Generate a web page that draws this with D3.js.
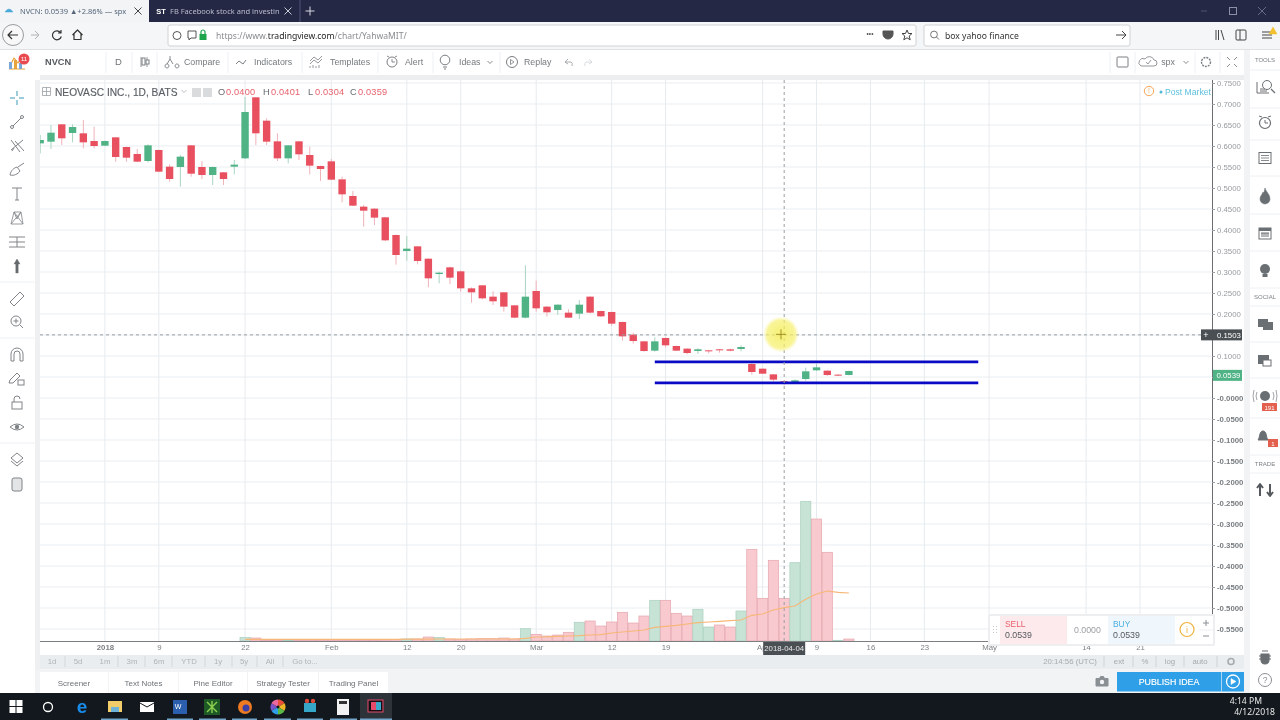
<!DOCTYPE html>
<html>
<head>
<meta charset="utf-8">
<title>NVCN chart</title>
<script src="https://cdn.jsdelivr.net/npm/d3@7"></script>
<style>
  html, body { margin: 0; padding: 0; background: #fff; overflow: hidden; }
  svg { display: block; filter: blur(0.4px); }
</style>
</head>
<body>
<svg id="chart" width="1280" height="720"></svg>
<script>
// Trading sessions on the time axis (weekends and holidays are skipped, as in the chart)
var sessions = [
  "2017-12-21","2017-12-22","2017-12-26","2017-12-27","2017-12-28","2017-12-29",
  "2018-01-02","2018-01-03","2018-01-04","2018-01-05","2018-01-08","2018-01-09","2018-01-10","2018-01-11","2018-01-12",
  "2018-01-16","2018-01-17","2018-01-18","2018-01-19","2018-01-22","2018-01-23","2018-01-24","2018-01-25","2018-01-26",
  "2018-01-29","2018-01-30","2018-01-31","2018-02-01","2018-02-02","2018-02-05","2018-02-06","2018-02-07","2018-02-08","2018-02-09",
  "2018-02-12","2018-02-13","2018-02-14","2018-02-15","2018-02-16","2018-02-20","2018-02-21","2018-02-22","2018-02-23",
  "2018-02-26","2018-02-27","2018-02-28","2018-03-01","2018-03-02","2018-03-05","2018-03-06","2018-03-07","2018-03-08","2018-03-09",
  "2018-03-12","2018-03-13","2018-03-14","2018-03-15","2018-03-16","2018-03-19","2018-03-20","2018-03-21","2018-03-22","2018-03-23",
  "2018-03-26","2018-03-27","2018-03-28","2018-03-29","2018-04-02","2018-04-03","2018-04-04","2018-04-05","2018-04-06",
  "2018-04-09","2018-04-10","2018-04-11","2018-04-12","2018-04-13","2018-04-16","2018-04-17","2018-04-18","2018-04-19","2018-04-20",
  "2018-04-23","2018-04-24","2018-04-25","2018-04-26","2018-04-27","2018-04-30","2018-05-01","2018-05-02","2018-05-03","2018-05-04",
  "2018-05-07","2018-05-08","2018-05-09","2018-05-10","2018-05-11","2018-05-14","2018-05-15","2018-05-16","2018-05-17","2018-05-18","2018-05-21"
];

// Daily candles, one value per session starting at the first session
var opens = [.6063,.6103,.6516,.631,.6302,.6119,.6008,.6206,.5976,.581,.5643,.5905,.5508,.55,.6016,.55,.531,.5373,.5508,.5706,.7159,.6603,.6111,.5706,.6111,.5786,.5524,.5635,.5206,.481,
  .4556,.4508,.4302,.3881,.35,.3611,.3317,.2952,.3111,.3016,.2611,.2683,.2413,.2516,.2206,.1913,.2548,.2175,.2095,.2032,.2008,.2413,.2071,.2048,.181,.1508,
  .1349,.1127,.1429,.1238,.1175,.1119,.1135,.1159,.1159,.1167,.081,.0698,.0563,.04,.0357,.0452,.0659,.0651,.0556,.0548];
var highs = [.6262,.65,.652,.6516,.6619,.646,.6127,.6214,.5984,.5929,.604,.5913,.5563,.5786,.6024,.5643,.5508,.5381,.5667,.7167,.7167,.6659,.6302,.6024,.6119,.5984,.5532,.569,.527,.4929,
  .4595,.4516,.431,.389,.3857,.362,.3325,.3008,.3127,.3032,.2635,.2691,.254,.2524,.2214,.3159,.2794,.219,.223,.2111,.2333,.2421,.2079,.2056,.1818,.1556,
  .1357,.1444,.1444,.1246,.1183,.119,.1143,.1167,.1175,.1254,.0865,.0706,.0571,.0401,.0444,.0722,.081,.0659,.0571,.0651];
var lows = [.5825,.5929,.6024,.6087,.5944,.5944,.6,.5627,.5627,.5611,.5611,.5373,.5151,.5032,.527,.5214,.5071,.5071,.5325,.569,.6024,.6024,.5643,.5587,.5667,.5325,.5167,.519,.4659,.4571,
  .4079,.4119,.3738,.3175,.327,.3183,.2635,.273,.2714,.2532,.227,.2349,.2214,.2056,.1897,.1897,.2056,.1937,.1976,.1905,.1881,.2016,.1929,.1722,.1365,.1294,
  .1103,.1103,.1206,.1119,.104,.1048,.1063,.1079,.1111,.1111,.0556,.0571,.0397,.0304,.0349,.0413,.0643,.0524,.0524,.054];
var closes = [.6143,.6317,.6183,.6452,.6087,.6,.6119,.5738,.5722,.5627,.6016,.5389,.5214,.5746,.5341,.531,.55,.5214,.5556,.681,.6302,.6103,.5706,.6016,.5802,.5532,.5452,.5198,.4849,.4579,
  .446,.4294,.3754,.3405,.3556,.3262,.2849,.2984,.2865,.2611,.2516,.2373,.2302,.2175,.1913,.2413,.2135,.204,.2222,.1913,.2222,.2032,.1944,.177,.1468,.1357,
  .1119,.1349,.1254,.1127,.1071,.1159,.1111,.1143,.1127,.1214,.0619,.0579,.0437,.0359,.0421,.0635,.073,.0548,.0532,.0643];

// Volume in millions with its moving average, starting at volumeStart
var volumeStart = "2018-01-22";
var volumes = [.35,.3,.1,.1,.05,.1,.1,.1,.1,.1,.1,.1,.1,.12,.15,.2,.2,.4,.35,.2,.15,.2,
  .23,.23,.3,.2,1.23,.67,.5,.6,.87,1.87,2,1.5,1.9,2.87,1.8,2.5,4.07,4.07,2.77,2.5,3.17,1.4,1.6,1.4,3,9.17,4.27,8.07,4.27,7.83,13.97,12.2,8.87,.07,.2];
var volumeUp = [1,0,0,0,1,0,0,0,0,0,0,0,0,0,0,1,0,0,1,0,0,0,
  0,0,0,0,1,0,0,0,0,1,0,0,0,0,0,0,1,0,0,0,1,1,0,0,1,0,0,0,0,1,1,0,0,1,0];
var volumeMa = [.16,.16,.17,.17,.17,.17,.17,.17,.17,.17,.17,.17,.17,.17,.17,.18,.18,.19,.2,.2,.2,.2,
  .2,.2,.2,.2,.27,.4,.42,.47,.5,.53,.6,.63,.8,.9,1,1.1,1.37,1.47,1.57,1.7,1.83,1.9,1.97,2.03,2.1,2.57,2.7,3.1,3.33,3.5,4.17,4.7,5,4.87,4.8];

// Two drawn support/resistance lines
var lineStart = "2018-03-16", lineEnd = "2018-04-30";
var lineLevels = [0.086, 0.036];

// Axis ticks
var priceTicks = [.75,.7,.65,.6,.55,.5,.45,.4,.35,.3,.25,.2,.15,.1,.05,0,-.05,-.1,-.15,-.2,-.25,-.3,-.35,-.4,-.45,-.5,-.55];
var timeTicks = ["2018-01-02","2018-01-09","2018-01-22","2018-02-01","2018-02-12","2018-02-20","2018-03-01","2018-03-12","2018-03-19","2018-04-02","2018-04-09","2018-04-16","2018-04-23","2018-05-01","2018-05-14","2018-05-21"];
var timeLabels = ["2018","9","22","Feb","12","20","Mar","12","19","Apr","9","16","23","May","14","21"];

var lastPrice = 0.0539, crossPrice = 0.1503, crossDate = "2018-04-04";

var svg = d3.select("#chart");
var UI = "'Noto Sans', sans-serif", TV = "'Liberation Sans', Arial, sans-serif";

function rect(p, x, y, w, h, fill, extra) {
  var r = p.append("rect").attr("x", x).attr("y", y).attr("width", w).attr("height", h).attr("fill", fill);
  if (extra) Object.keys(extra).forEach(function (k) { r.attr(k, extra[k]); });
  return r;
}
function txt(p, x, y, s, size, color, extra) {
  var t = p.append("text").attr("x", x).attr("y", y).attr("dy", "0.35em").attr("font-size", size)
    .attr("font-family", TV).attr("fill", color).text(s);
  if (extra) Object.keys(extra).forEach(function (k) { t.attr(k, extra[k]); });
  return t;
}
function line(p, x1, y1, x2, y2, color, w) {
  return p.append("line").attr("x1", x1).attr("y1", y1).attr("x2", x2).attr("y2", y2)
    .attr("stroke", color).attr("stroke-width", w || 1);
}
// small stroked icon, path written around its own centre
function icon(p, x, y, d, color, w, fill) {
  return p.append("path").attr("transform", "translate(" + x + "," + y + ")").attr("d", d)
    .attr("fill", fill || "none").attr("stroke", color).attr("stroke-width", w || 1)
    .attr("stroke-linejoin", "round");
}

// ---------- scales ----------
var paneL = 40, paneR = 1212, paneT = 80, paneB = 641;
var x = d3.scalePoint().domain(sessions).range([40.2, 1140]);
var y = d3.scaleLinear().domain([0, 0.75]).range([398, 83]);
var yVol = d3.scaleLinear().domain([0, 14]).range([641, 501]);
var step = x.step();

rect(svg, 0, 0, 1280, 720, "#ffffff");

// ---------- chart pane ----------
var defs = svg.append("defs");
defs.append("clipPath").attr("id", "pane").append("rect")
  .attr("x", paneL).attr("y", paneT).attr("width", paneR - paneL).attr("height", paneB - paneT);
var glow = defs.append("radialGradient").attr("id", "glow");
glow.append("stop").attr("offset", "0%").attr("stop-color", "#f4ec50").attr("stop-opacity", 0.8);
glow.append("stop").attr("offset", "78%").attr("stop-color", "#f6f06c").attr("stop-opacity", 0.7);
glow.append("stop").attr("offset", "100%").attr("stop-color", "#f8f490").attr("stop-opacity", 0);

var pane = svg.append("g").attr("clip-path", "url(#pane)");

pane.selectAll("line.gy").data(priceTicks).join("line").attr("class", "gy")
  .attr("x1", paneL).attr("x2", paneR).attr("y1", d => y(d)).attr("y2", d => y(d))
  .attr("stroke", "#e9eef2");
pane.selectAll("line.gx").data(timeTicks).join("line").attr("class", "gx")
  .attr("x1", d => x(d)).attr("x2", d => x(d)).attr("y1", paneT).attr("y2", paneB)
  .attr("stroke", "#e6ebef");

// volume pane
var vStart = sessions.indexOf(volumeStart);
var volRows = volumes.map(function (v, i) {
  return { date: sessions[vStart + i], v: v, up: volumeUp[i], ma: volumeMa[i] };
});
pane.selectAll("rect.vol").data(volRows).join("rect").attr("class", "vol")
  .attr("x", d => x(d.date) - step / 2 + 0.3).attr("width", step - 0.6)
  .attr("y", d => yVol(d.v)).attr("height", d => yVol(0) - yVol(d.v))
  .attr("fill", d => d.up ? "#c6e3d6" : "#f8c9cf")
  .attr("stroke", d => d.up ? "#a9d0bf" : "#e5a6ae").attr("stroke-width", 0.7);
pane.append("path").datum(volRows)
  .attr("d", d3.line().x(d => x(d.date)).y(d => yVol(d.ma)))
  .attr("fill", "none").attr("stroke", "#f7b777").attr("stroke-width", 1.2);

// candles
var candles = opens.map(function (o, i) {
  return { date: sessions[i], o: o, h: highs[i], l: lows[i], c: closes[i] };
});
var up = d => d.c >= d.o;
pane.selectAll("line.wick").data(candles).join("line").attr("class", "wick")
  .attr("x1", d => x(d.date)).attr("x2", d => x(d.date))
  .attr("y1", d => y(d.h)).attr("y2", d => y(d.l))
  .attr("stroke", d => up(d) ? "#a8d4c0" : "#f0b2b9").attr("stroke-width", 1);
pane.selectAll("rect.body").data(candles).join("rect").attr("class", "body")
  .attr("x", d => x(d.date) - 3.7).attr("width", 7.4)
  .attr("y", d => y(Math.max(d.o, d.c)))
  .attr("height", d => Math.max(1, Math.abs(y(d.o) - y(d.c))))
  .attr("fill", d => up(d) ? "#4fb386" : "#e8505f");

// drawn levels
pane.selectAll("line.level").data(lineLevels).join("line").attr("class", "level")
  .attr("x1", x(lineStart)).attr("x2", x(lineEnd)).attr("y1", d => y(d)).attr("y2", d => y(d))
  .attr("stroke", "#0a0ac4").attr("stroke-width", 2.8);

// crosshair and cursor highlight
pane.append("line").attr("x1", x(crossDate)).attr("x2", x(crossDate)).attr("y1", paneT).attr("y2", paneB)
  .attr("stroke", "#9a9ea2").attr("stroke-dasharray", "3,3");
pane.append("line").attr("x1", paneL).attr("x2", paneR).attr("y1", y(crossPrice)).attr("y2", y(crossPrice))
  .attr("stroke", "#9a9ea2").attr("stroke-dasharray", "3,3");
pane.append("circle").attr("cx", 781).attr("cy", y(crossPrice) - 0.5).attr("r", 18).attr("fill", "url(#glow)");
icon(pane, 781, y(crossPrice) - 0.5, "M-5,0H5M0,-5V5", "#a0922a", 1);

// ---------- axes ----------
var yFmt = d3.format(".4f");
var yAxis = svg.append("g").attr("transform", "translate(" + paneR + ",0)")
  .call(d3.axisRight(y).tickValues(priceTicks).tickSize(3).tickPadding(2)
    .tickFormat(d => d <= 0 ? "-" + yFmt(Math.abs(d)) : yFmt(d)));
yAxis.select(".domain").attr("stroke", "#6a6e72").attr("d", "M0.5," + paneT + "V" + paneB);
yAxis.selectAll("line").attr("stroke", "#9a9ea2");
yAxis.selectAll("text").attr("font-family", TV).attr("font-size", 7.8)
  .attr("fill", d => d <= 0 ? "#777c80" : "#979b9f").attr("font-weight", d => d <= 0 ? 700 : 400);

var xAxis = svg.append("g").attr("transform", "translate(0," + paneB + ")")
  .call(d3.axisBottom(x).tickValues(timeTicks).tickSize(0).tickPadding(3)
    .tickFormat(d => timeLabels[timeTicks.indexOf(d)]));
xAxis.select(".domain").attr("stroke", "#7a7e82").attr("d", "M" + paneL + ",0.5H" + paneR);
xAxis.selectAll("text").attr("font-family", TV).attr("font-size", 7.8).attr("fill", "#7c8186")
  .attr("font-weight", d => d === "2018-01-02" ? 700 : 400);

// price and date tags
rect(svg, 1201, y(crossPrice) - 5.5, 41, 11, "#4a4f53");
txt(svg, 1206, y(crossPrice), "+", 9, "#ffffff", { "text-anchor": "middle" });
txt(svg, 1217, y(crossPrice), yFmt(crossPrice), 7.8, "#ffffff");
rect(svg, paneR + 1, y(lastPrice) - 5.5, 29, 11, "#4fb386");
txt(svg, 1216.5, y(lastPrice), yFmt(lastPrice), 7.8, "#ffffff");
rect(svg, x(crossDate) - 21, 642, 42, 13, "#4a4f53");
txt(svg, x(crossDate), 648.5, crossDate, 7.8, "#e8e8e8", { "text-anchor": "middle" });

// chart header
icon(svg, 46.5, 91.5, "M-4,-4H4V4H-4ZM0,-4V4M-4,0H4", "#9aa0a5", 0.8);
txt(svg, 55, 92, "NEOVASC INC., 1D, BATS", 10.2, "#5a5f64", { "font-weight": 400, "stroke": "#5a5f64", "stroke-width": 0.15 });
icon(svg, 184, 91, "M-2.5,-1L0,1.5L2.5,-1", "#b9bdc1", 1);
rect(svg, 192, 88, 9, 9, "#d9dbdd"); rect(svg, 203, 88, 9, 9, "#d9dbdd");
[[218, "O", 226, "0.0400"], [263, "H", 271, "0.0401"], [308, "L", 315, "0.0304"], [350, "C", 358, "0.0359"]].forEach(function (h) {
  txt(svg, h[0], 92, h[1], 9.2, "#666b70");
  txt(svg, h[2], 92, h[3], 9.2, "#e8606c", { "letter-spacing": 0.2 });
});
svg.append("circle").attr("cx", 1149).attr("cy", 91).attr("r", 4.7).attr("fill", "none").attr("stroke", "#f4a65c").attr("stroke-width", 1);
txt(svg, 1149, 91, "!", 7, "#f4a65c", { "text-anchor": "middle" });
svg.append("circle").attr("cx", 1161).attr("cy", 92).attr("r", 1.5).attr("fill", "#4db8d8");
txt(svg, 1165, 92, "Post Market", 8.6, "#5fc0dd");

// ---------- trading widget ----------
rect(svg, 988, 614, 227, 32, "#eceef0", { rx: 2 });
rect(svg, 990, 616, 223, 28, "#ffffff");
rect(svg, 1000, 616, 67, 28, "#fdeaed");
rect(svg, 1108, 616, 67, 28, "#eff6fc");
txt(svg, 1005, 624, "SELL", 8.4, "#e8606c");
txt(svg, 1005, 634.5, "0.0539", 8.8, "#555a5f");
txt(svg, 1074, 630, "0.0000", 8.8, "#9a9ea2");
txt(svg, 1113, 624, "BUY", 8.4, "#4db0e4");
txt(svg, 1113, 634.5, "0.0539", 8.8, "#555a5f");
svg.append("circle").attr("cx", 1187).attr("cy", 629.5).attr("r", 7).attr("fill", "none").attr("stroke", "#efb23c").attr("stroke-width", 1.2);
txt(svg, 1187, 630, "i", 9, "#efb23c", { "text-anchor": "middle" });
icon(svg, 1206, 623, "M-3,0H3M0,-3V3", "#8a8f94", 1);
icon(svg, 1206, 636, "M-3,0H3", "#8a8f94", 1);
icon(svg, 995, 630, "M-1.5,-4V-3M1.5,-4V-3M-1.5,-1V0M1.5,-1V0M-1.5,2V3M1.5,2V3", "#c6c9cc", 1);
line(svg, 1199, 630, 1213, 630, "#eceef0");

// ---------- time range bar and bottom tabs ----------
rect(svg, 40, 655, 1204, 14.5, "#eaedef");
[["1d", 52], ["5d", 78], ["1m", 105], ["3m", 132], ["6m", 159], ["YTD", 189], ["1y", 218], ["5y", 244], ["All", 270], ["Go to...", 305]].forEach(function (b) {
  txt(svg, b[1], 661.5, b[0], 7.8, "#b0b4b8", { "text-anchor": "middle" });
});
[65, 118, 145, 172, 205, 232, 257, 283].forEach(function (s) { line(svg, s, 656, s, 667, "#d4d7da"); });
[["20:14:56 (UTC)", 1070], ["ext", 1119], ["%", 1145], ["log", 1170], ["auto", 1200]].forEach(function (b) {
  txt(svg, b[1], 661.5, b[0], 7.8, "#a6aaae", { "text-anchor": "middle" });
});
[1104, 1133, 1156, 1184, 1217].forEach(function (s) { line(svg, s, 656, s, 667, "#d0d3d6"); });
svg.append("circle").attr("cx", 1231).attr("cy", 661.5).attr("r", 3).attr("fill", "none").attr("stroke", "#a6aaae").attr("stroke-width", 1.6);

rect(svg, 0, 669.5, 1250, 24, "#f1f3f5");
rect(svg, 35, 80, 5, 590, "#eef0f2");
rect(svg, 1244, 50, 6, 620, "#f1f3f5");
rect(svg, 40, 75, 1204, 5, "#eceef0");
[["Screener", 40, 68], ["Text Notes", 109, 69], ["Pine Editor", 179, 68], ["Strategy Tester", 248, 70], ["Trading Panel", 319, 69]].forEach(function (t) {
  rect(svg, t[1], 672, t[2], 21, "#ffffff");
  txt(svg, t[1] + t[2] / 2, 683.5, t[0], 8, "#6e7377", { "text-anchor": "middle" });
});
icon(svg, 1102, 681.5, "M-6,-3H-2.5L-1.5,-5H1.5L2.5,-3H6V4.5H-6Z", "#8a8f94", 1, "#8a8f94");
svg.append("circle").attr("cx", 1102).attr("cy", 682).attr("r", 2.2).attr("fill", "#f1f3f5");
rect(svg, 1117, 672, 127, 19.5, "#2f9fe8");
line(svg, 1221.5, 672, 1221.5, 691.5, "#a8d6f4");
txt(svg, 1169, 682, "PUBLISH IDEA", 8.8, "#ffffff", { "text-anchor": "middle", "stroke": "#fff", "stroke-width": 0.15 });
svg.append("circle").attr("cx", 1233).attr("cy", 681.5).attr("r", 6.5).attr("fill", "none").attr("stroke", "#fff").attr("stroke-width", 1.3);
icon(svg, 1233, 681.5, "M-2,-3L3,0L-2,3Z", "#fff", 0.5, "#fff");

// ---------- left drawing tools ----------
rect(svg, 0, 50, 35, 643, "#ffffff");
var ic = "#808488";
icon(svg, 17, 98, "M-7,0H-2M2,0H7M0,-7V-2M0,2V7", "#3a9bb8", 1);
icon(svg, 17, 122, "M-5,5L5,-5", ic, 1);
svg.append("circle").attr("cx", 12).attr("cy", 127).attr("r", 1.5).attr("fill", "#fff").attr("stroke", ic);
svg.append("circle").attr("cx", 22).attr("cy", 117).attr("r", 1.5).attr("fill", "#fff").attr("stroke", ic);
icon(svg, 17, 146, "M-6,-6L3,6M-2,-5L7,5M-6,4L6,-6M-5,5L-3,2", ic, 1);
icon(svg, 17, 170, "M-7,5C-6,0 -3,-2 0,-3L3,1C1,4 -3,6 -7,5ZM1,-3L7,-7", ic, 1);
icon(svg, 17, 194, "M-5,-6H5M0,-6V6M-2,6H2", ic, 1);
icon(svg, 17, 218, "M-6,6L-3,-6L0,1L4,-6L6,6L-6,6M-3,-6L4,-6M-3,-6L6,6M4,-6L-6,6", ic, 0.8);
icon(svg, 17, 242, "M-8,-5H8M-8,0H8M-8,5H8M0,-5V5", ic, 1);
icon(svg, 17, 266, "M-1.2,7H1.2V-2H3L0,-7L-3,-2H-1.2Z", "#666a6e", 0.4, "#666a6e");
line(svg, 0, 282, 35, 282, "#eef0f2");
icon(svg, 17, 299, "M-7,3L3,-7L7,-3L-3,7Z", ic, 1);
svg.append("circle").attr("cx", 16).attr("cy", 321).attr("r", 5).attr("fill", "none").attr("stroke", ic);
icon(svg, 16, 321, "M-2.5,0H2.5M0,-2.5V2.5M4,4L7,7", ic, 1);
line(svg, 0, 338, 35, 338, "#eef0f2");
icon(svg, 17, 355, "M-6,6V-1A6,6 0 0 1 6,-1V6H3V-1A3,3 0 0 0 -3,-1V6Z", ic, 1);
icon(svg, 15, 378, "M-6,5L-5,2L2,-5L5,-2L-2,5Z", ic, 1);
rect(svg, 18, 380, 6, 5, "none", { stroke: ic });
rect(svg, 12, 402, 10, 7, "none", { stroke: ic });
icon(svg, 17, 402, "M-3,0V-3A3,3 0 0 1 3,-3", ic, 1);
icon(svg, 17, 427, "M-7,0Q0,-6 7,0Q0,6 -7,0Z", ic, 1);
svg.append("circle").attr("cx", 17).attr("cy", 427).attr("r", 2.2).attr("fill", ic);
line(svg, 0, 443, 35, 443, "#eef0f2");
icon(svg, 17, 458, "M-6,0L0,-5L6,0L0,5ZM-6,3L0,8L6,3", ic, 1);
rect(svg, 12, 478, 10, 13, "#e2e4e6", { stroke: ic, rx: 2 });
icon(svg, 17, 61, "M-8,8H8M-7,5L-3,-3L1,2L6,-6", "#e8a33c", 1.2);
rect(svg, 9, 62, 3, 7, "#7aa7d8"); rect(svg, 14, 60, 3, 9, "#e8a33c"); rect(svg, 19, 63, 3, 6, "#7aa7d8");
svg.append("circle").attr("cx", 24).attr("cy", 59).attr("r", 5.5).attr("fill", "#e84a4f");
txt(svg, 24, 59, "11", 6, "#ffffff", { "text-anchor": "middle" });

// ---------- right sidebar ----------
rect(svg, 1250, 50, 30, 643, "#ffffff");
txt(svg, 1265, 59.5, "TOOLS", 6, "#7c8186", { "text-anchor": "middle" });
[70, 108, 140, 176, 214, 251, 288, 306, 342, 378, 418, 455, 473].forEach(function (s) { line(svg, 1250, s, 1280, s, "#eef0f2"); });
txt(svg, 1265, 297, "SOCIAL", 6, "#7c8186", { "text-anchor": "middle" });
txt(svg, 1265, 464, "TRADE", 6, "#7c8186", { "text-anchor": "middle" });
var rc = "#6a6f73";
icon(svg, 1263, 87, "M-6,-5V6H6M-3,2H2M-3,4H4", rc, 1);
svg.append("circle").attr("cx", 1267).attr("cy", 85).attr("r", 4.5).attr("fill", "#fff").attr("stroke", rc);
icon(svg, 1271, 89, "M0,0L4,4", rc, 1.2);
svg.append("circle").attr("cx", 1265).attr("cy", 123).attr("r", 5.5).attr("fill", "none").attr("stroke", rc).attr("stroke-width", 1.2);
icon(svg, 1265, 123, "M0,-3V0H3M-6,-7L-3,-6M6,-7L3,-6", rc, 1);
rect(svg, 1259, 152.5, 12, 11, "none", { stroke: rc });
icon(svg, 1265, 158, "M-4,-2.5H4M-4,0H4M-4,2.5H4", rc, 0.8);
icon(svg, 1265, 196, "M0,-8C1,-4 5,-2 5,3A5,5 0 0 1 -5,3C-5,0 -3,-1 -2,-4C-1,-3 -1,-3 0,-8Z", rc, 0.5, rc);
rect(svg, 1259, 228, 12, 11, "#ffffff", { stroke: rc });
rect(svg, 1259, 228, 12, 3, rc);
icon(svg, 1265, 234, "M-4,0H4M-4,2H4M-4,-1H4", rc, 1);
svg.append("circle").attr("cx", 1265).attr("cy", 269).attr("r", 5).attr("fill", rc);
rect(svg, 1262.5, 274, 5, 3, rc);
rect(svg, 1258, 319, 10, 8, rc); rect(svg, 1263, 322, 10, 8, rc);
rect(svg, 1258, 355, 11, 9, rc); rect(svg, 1263, 360, 8, 6, "#fff", { stroke: rc });
svg.append("circle").attr("cx", 1265).attr("cy", 396).attr("r", 5).attr("fill", rc);
icon(svg, 1265, 396, "M-8,-4Q-10,0 -8,4M-11,-6Q-13,0 -11,6M8,-4Q10,0 8,4M11,-6Q13,0 11,6", "#a0a4a8", 1);
rect(svg, 1262, 403, 15, 8, "#e4604e");
txt(svg, 1269.5, 407.5, "191", 6, "#ffffff", { "text-anchor": "middle" });
icon(svg, 1263, 436, "M-5,4H5C3,2 4,-5 0,-5C-4,-5 -3,2 -5,4Z", rc, 1, rc);
rect(svg, 1268, 439, 10, 8, "#e4604e");
txt(svg, 1273, 443.5, "1", 6, "#ffffff", { "text-anchor": "middle" });
icon(svg, 1265, 490, "M-5,6V-5M-8,-2L-5,-6L-2,-2M5,-6V5M2,2L5,6L8,2", "#55595d", 2);
icon(svg, 1265, 656, "M-4,-2H4V4A4,4 0 0 1 -4,4ZM-6,0H6M-6,3H6M-3,-5H3", "#6a6f73", 1.2, "#6a6f73");
svg.append("circle").attr("cx", 1265).attr("cy", 680).attr("r", 6.5).attr("fill", "none").attr("stroke", "#8a8f94");
txt(svg, 1265, 680.5, "?", 8.5, "#8a8f94", { "text-anchor": "middle" });

// ---------- top toolbar ----------
rect(svg, 40, 50, 1204, 25, "#ffffff");
[106, 132, 157, 228, 302, 378, 433, 500, 1110, 1135, 1195, 1220].forEach(function (s) { line(svg, s, 52, s, 73, "#eef0f2"); });
txt(svg, 45, 62, "NVCN", 9.2, "#555a5f", { "font-weight": 700 });
txt(svg, 118.5, 62, "D", 9.5, "#6e7377", { "text-anchor": "middle" });
var tc = "#7a7f83";
icon(svg, 144, 62, "M-3,-5V5M3,-5V5", tc, 0.8);
rect(svg, 142, 58, 3, 7, "#fff", { stroke: tc }); rect(svg, 146, 60, 3, 4, "#fff", { stroke: tc });
icon(svg, 170, 62, "M-5,4A2,2 0 1 0 -5,3.9M5,4A2,2 0 1 0 5,3.9M-3,2L0,-3L3,2M0,-3V-6", tc, 0.9);
icon(svg, 241, 62, "M-5,2L-2,-1L2,2L5,-2", tc, 1);
icon(svg, 316, 62, "M-6,-1L-2,-5L2,-2L6,-6M-6,2L-2,-2L2,1L6,-3M-6,6V4M-3,6V3M0,6V4M3,6V3", tc, 0.8);
svg.append("circle").attr("cx", 392).attr("cy", 62).attr("r", 5).attr("fill", "none").attr("stroke", tc);
icon(svg, 392, 62, "M0,-3V0H3M-5,-6L-3,-5M5,-6L3,-5", tc, 0.9);
svg.append("circle").attr("cx", 445).attr("cy", 60).attr("r", 4.8).attr("fill", "none").attr("stroke", tc);
icon(svg, 445, 62, "M-2,5H2M-1,7H1", tc, 1);
icon(svg, 490, 62, "M-2.5,-1L0,1.5L2.5,-1", tc, 0.9);
svg.append("circle").attr("cx", 512).attr("cy", 62).attr("r", 5.5).attr("fill", "none").attr("stroke", tc);
icon(svg, 512, 62, "M-1.5,-2.5L2,0L-1.5,2.5Z", tc, 0.8);
icon(svg, 569, 62, "M-4,0L-1,-3M-4,0L-1,2M-4,0H2Q4,1 3,4", "#a0a4a8", 0.9);
icon(svg, 588, 62, "M4,0L1,-3M4,0L1,2M4,0H-2Q-4,1 -3,4", "#d6d8da", 0.9);
[["Compare", 184], ["Indicators", 254], ["Templates", 330], ["Alert", 405], ["Ideas", 459], ["Replay", 524]].forEach(function (b) {
  txt(svg, b[1], 62, b[0], 8.8, "#74797d");
});
rect(svg, 1117, 57, 11, 10, "none", { stroke: tc, rx: 1 });
icon(svg, 1148, 62, "M-7,4H6A3,3 0 0 0 6,-2A5,5 0 0 0 -3,-3A4,4 0 0 0 -7,4ZM-2,0L0,2L3,-2", tc, 0.8);
txt(svg, 1168, 62, "spx", 8.8, "#74797d", { "text-anchor": "middle" });
icon(svg, 1186, 62, "M-2.5,-1L0,1.5L2.5,-1", tc, 0.9);
svg.append("circle").attr("cx", 1206).attr("cy", 62).attr("r", 4.5).attr("fill", "none").attr("stroke", tc).attr("stroke-dasharray", "2,1").attr("stroke-width", 1.4);
icon(svg, 1232, 62, "M-5,-5L-2,-2M5,-5L2,-2M-5,5L-2,2M5,5L2,2", tc, 0.9);

// ---------- browser chrome ----------
rect(svg, 0, 0, 1280, 22, "#252845");
rect(svg, 0, 0, 149, 22, "#f3f4f6");
icon(svg, 9, 11, "M-4,1Q0,-5 4,1Z", "#4aa8d8", 0.5, "#4aa8d8");
txt(svg, 20, 11, "NVCN: 0.0539 \u25B2+2.86% \u2014 spx", 7.5, "#55667a", { "font-family": UI });
icon(svg, 138, 11, "M-3.5,-3.5L3.5,3.5M3.5,-3.5L-3.5,3.5", "#444", 1);
txt(svg, 161, 11, "ST", 7.5, "#ffffff", { "text-anchor": "middle", "font-weight": 700 });
txt(svg, 170, 11, "FB Facebook stock and investin", 7.5, "#b9bccb", { "font-family": UI });
icon(svg, 288, 11, "M-3.5,-3.5L3.5,3.5M3.5,-3.5L-3.5,3.5", "#c9cbd6", 1);
line(svg, 300, 0, 300, 22, "#50537a");
icon(svg, 310, 11, "M-4.5,0H4.5M0,-4.5V4.5", "#d6d8e2", 1);
icon(svg, 1204, 11, "M-3,0H3", "#4f5270", 1);
rect(svg, 1229.5, 7.5, 7, 7, "none", { stroke: "#8c8fa6" });
icon(svg, 1262, 11, "M-4,-4L4,4M4,-4L-4,4", "#6f7290", 0.9);

rect(svg, 0, 22, 1280, 28, "#f5f6f7");
line(svg, 0, 49.5, 1280, 49.5, "#dfe1e3");
svg.append("circle").attr("cx", 13).attr("cy", 35).attr("r", 10.5).attr("fill", "#f8f8f9").attr("stroke", "#9a9ca0");
icon(svg, 13, 35, "M5,0H-5M-1,-4L-5,0L-1,4", "#333", 1.2);
icon(svg, 35, 35, "M-4,0H4M0,-4L4,0L0,4", "#b0b2b6", 1);
icon(svg, 57, 35, "M3.5,-2.5A4.5,4.5 0 1 0 4.3,1.5M4,-5V-2H1", "#333", 1.2);
icon(svg, 77.5, 35, "M-5,0L0,-5L5,0M-3.5,-1V4.5H3.5V-1", "#333", 1.2);
rect(svg, 168, 25, 748, 21, "#ffffff", { stroke: "#d0d2d5", rx: 2 });
svg.append("circle").attr("cx", 177).attr("cy", 35.5).attr("r", 4).attr("fill", "none").attr("stroke", "#555");
icon(svg, 192, 35, "M-4,-4H4V3H-1L-3,5V3H-4Z", "#555", 1);
rect(svg, 199.5, 34, 7, 6, "#1ea44a");
icon(svg, 203, 34, "M-2,0V-2A2,2 0 0 1 2,-2V0", "#1ea44a", 1.2);
var urlText = txt(svg, 216, 35.5, "", 8.6, "#888c90", { "font-family": UI });
urlText.append("tspan").text("https://www.");
urlText.append("tspan").attr("fill", "#222").text("tradingview.com");
urlText.append("tspan").text("/chart/YahwaMIT/");
txt(svg, 870, 34, "\u2022\u2022\u2022", 6.5, "#555", { "text-anchor": "middle" });
icon(svg, 888, 35, "M-5,-4H5V-1A5,5 0 0 1 -5,-1Z", "#555", 1, "#555");
icon(svg, 907, 35, "M0,-5L1.5,-1.5L5,-1.5L2.2,1L3.2,4.8L0,2.8L-3.2,4.8L-2.2,1L-5,-1.5L-1.5,-1.5Z", "#444", 1);
rect(svg, 924, 25, 206, 21, "#ffffff", { stroke: "#d0d2d5", rx: 2 });
svg.append("circle").attr("cx", 934).attr("cy", 34.5).attr("r", 3.4).attr("fill", "none").attr("stroke", "#777");
icon(svg, 934, 34.5, "M2.5,2.5L5,5", "#777", 1);
txt(svg, 945, 35.5, "box yahoo finance", 8.6, "#333", { "font-family": UI });
icon(svg, 1121, 35, "M-5,0H5M1,-4L5,0L1,4", "#444", 1);
icon(svg, 1220, 35, "M-4,-5V5M-1.5,-5V5M1,-5L4,5", "#444", 1);
rect(svg, 1236, 30, 10, 10, "none", { stroke: "#444", rx: 1 });
line(svg, 1240, 30, 1240, 40, "#444");
icon(svg, 1267, 35, "M-5,-3H5M-5,0H5M-5,3H5", "#444", 1);
icon(svg, 1273, 32, "M0,-5L4,2H-4Z", "#f3c02e", 0.5, "#f3c02e");

// ---------- taskbar ----------
rect(svg, 0, 693, 1280, 27, "#12181d");
rect(svg, 360, 693, 32, 27, "#2d3338");
rect(svg, 9.5, 700, 6, 6, "#fff"); rect(svg, 16.5, 700, 6, 6, "#fff"); rect(svg, 9.5, 707, 6, 6, "#fff"); rect(svg, 16.5, 707, 6, 6, "#fff");
svg.append("circle").attr("cx", 48).attr("cy", 707).attr("r", 4.5).attr("fill", "none").attr("stroke", "#fff").attr("stroke-width", 1.3);
txt(svg, 82, 706, "e", 19, "#1a8ce8", { "text-anchor": "middle", "font-weight": 700 });
rect(svg, 108, 701, 14, 11, "#f3cd6a"); rect(svg, 111, 707, 8, 5, "#6fb4d8");
rect(svg, 140, 702, 14, 10, "#fff"); icon(svg, 147, 704, "M-7,-1L0,3L7,-1", "#12181d", 1);
rect(svg, 173, 700, 14, 14, "#2b5fae");
txt(svg, 178, 707, "W", 7, "#fff", { "text-anchor": "middle" });
rect(svg, 204, 699, 16, 16, "#1d5a26");
icon(svg, 212, 707, "M-5,-5L5,5M5,-5L-5,5M0,-6V6", "#8fd14f", 1.4);
svg.append("circle").attr("cx", 245).attr("cy", 707).attr("r", 7).attr("fill", "#ee7a22");
svg.append("circle").attr("cx", 246).attr("cy", 708).attr("r", 3.5).attr("fill", "#3b3fa8");
[["#e8503a", 0], ["#f0b429", 60], ["#5ab947", 120], ["#2f9fe8", 180], ["#7a53c6", 240], ["#ec6aa0", 300]].forEach(function (p) {
  svg.append("path").attr("transform", "translate(278,707) rotate(" + p[1] + ")")
    .attr("d", d3.arc()({ innerRadius: 1.5, outerRadius: 7.5, startAngle: 0, endAngle: Math.PI / 3 })).attr("fill", p[0]);
});
rect(svg, 304, 703, 12, 9, "#35a7c8");
svg.append("circle").attr("cx", 307).attr("cy", 701).attr("r", 2.2).attr("fill", "#d84b3a");
svg.append("circle").attr("cx", 313).attr("cy", 701).attr("r", 2.2).attr("fill", "#d84b3a");
rect(svg, 337, 699, 12, 16, "#f2f2f2"); rect(svg, 339, 701, 8, 3, "#333");
rect(svg, 368, 700, 15, 12, "#101015", { stroke: "#e84a6a" });
rect(svg, 371, 702, 5, 8, "#e84a6a"); rect(svg, 376, 702, 5, 8, "#3aa8c8");
[[101, 128], [167, 193], [199, 226], [232, 257], [264, 291], [297, 323], [330, 357], [360, 392]].forEach(function (u) {
  rect(svg, u[0], 718.5, u[1] - u[0], 1.5, "#74a6cc");
});
txt(svg, 1262, 700.5, "4:14 PM", 8.6, "#e8e8e8", { "text-anchor": "end", "font-family": UI });
txt(svg, 1275, 712, "4/12/2018", 8.6, "#e8e8e8", { "text-anchor": "end", "font-family": UI });
</script>
</body>
</html>
